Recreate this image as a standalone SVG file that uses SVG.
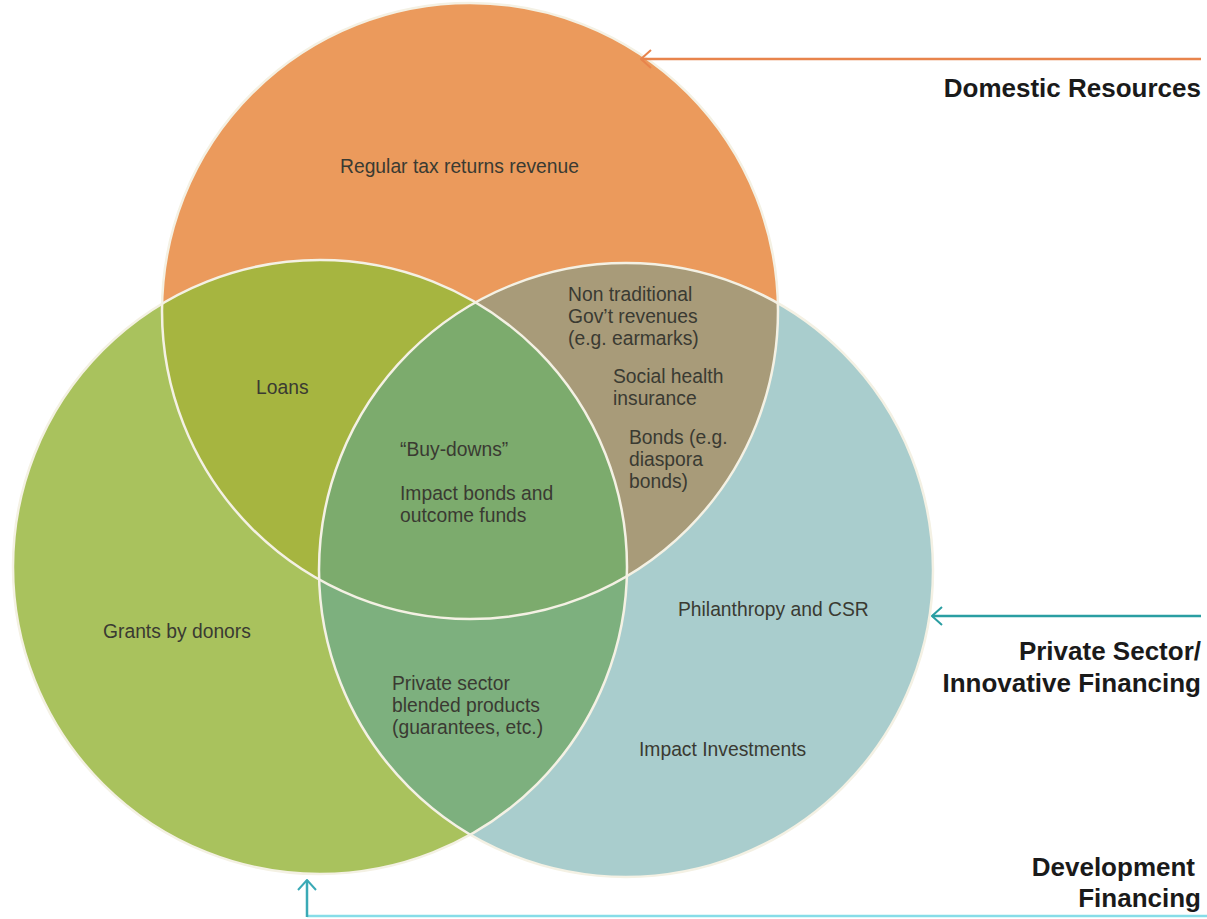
<svg xmlns="http://www.w3.org/2000/svg" width="1207" height="919" viewBox="0 0 1207 919">
<style>
.lbl{font-family:"Liberation Sans",Arial,sans-serif;font-size:19.3px;fill:#3a3a32}
.ttl{font-family:"Liberation Sans",Arial,sans-serif;font-size:26px;font-weight:bold;fill:#1a1a1a;text-anchor:end}
.ring{fill:none;stroke:#f4f1e4;stroke-width:2.5}
</style>
<defs>
<circle id="cO" cx="470" cy="311" r="308"/>
<circle id="cG" cx="320" cy="567" r="307"/>
<circle id="cT" cx="626" cy="570" r="307"/>
<clipPath id="clipO"><use href="#cO"/></clipPath>
<clipPath id="clipG"><use href="#cG"/></clipPath>
<clipPath id="clipT"><use href="#cT"/></clipPath>
<marker id="arrO" viewBox="0 0 12 20" refX="11" refY="10" markerWidth="12" markerHeight="20" markerUnits="userSpaceOnUse" orient="auto"><path d="M1,1 L11,10 L1,19" fill="none" stroke="#e8844c" stroke-width="2"/></marker>
<marker id="arrT" viewBox="0 0 12 20" refX="11" refY="10" markerWidth="12" markerHeight="20" markerUnits="userSpaceOnUse" orient="auto"><path d="M1,1 L11,10 L1,19" fill="none" stroke="#2a9ea2" stroke-width="2"/></marker>
<marker id="arrB" viewBox="0 0 12 20" refX="11" refY="10" markerWidth="12" markerHeight="20" markerUnits="userSpaceOnUse" orient="auto"><path d="M1,1 L11,10 L1,19" fill="none" stroke="#3aaab6" stroke-width="2"/></marker>
</defs>
<g id="circle-orange"><use href="#cO" fill="#eb9a5c"/></g>
<g id="circle-green"><use href="#cG" fill="#a9c25d"/></g>
<g id="circle-teal"><use href="#cT" fill="#a9cdcd"/></g>
<g id="overlap-orange-green" clip-path="url(#clipO)"><use href="#cG" fill="#a6b540"/></g>
<g id="overlap-orange-teal" clip-path="url(#clipO)"><use href="#cT" fill="#a89b79"/></g>
<g id="overlap-green-teal" clip-path="url(#clipG)"><use href="#cT" fill="#7db07e"/></g>
<g id="overlap-all" clip-path="url(#clipO)"><g clip-path="url(#clipG)"><use href="#cT" fill="#7cab6d"/></g></g>
<g id="outlines"><use href="#cO" class="ring"/><use href="#cG" class="ring"/><use href="#cT" class="ring"/></g>
<g id="labels">
<text class="lbl" x="340" y="173">Regular tax returns revenue</text>
<text class="lbl" x="256" y="394">Loans</text>
<text class="lbl" x="568" y="301">Non traditional</text>
<text class="lbl" x="568" y="323">Gov’t revenues</text>
<text class="lbl" x="568" y="345">(e.g. earmarks)</text>
<text class="lbl" x="613" y="383">Social health</text>
<text class="lbl" x="613" y="405">insurance</text>
<text class="lbl" x="629" y="444">Bonds (e.g.</text>
<text class="lbl" x="629" y="466">diaspora</text>
<text class="lbl" x="629" y="488">bonds)</text>
<text class="lbl" x="400" y="456">“Buy-downs”</text>
<text class="lbl" x="400" y="500">Impact bonds and</text>
<text class="lbl" x="400" y="522">outcome funds</text>
<text class="lbl" x="103" y="638">Grants by donors</text>
<text class="lbl" x="678" y="616">Philanthropy and CSR</text>
<text class="lbl" x="392" y="690">Private sector</text>
<text class="lbl" x="392" y="712">blended products</text>
<text class="lbl" x="392" y="734">(guarantees, etc.)</text>
<text class="lbl" x="639" y="756">Impact Investments</text>
</g>
<g id="connectors">
<line x1="1201" y1="59" x2="641" y2="59" stroke="#e8844c" stroke-width="2.5" marker-end="url(#arrO)"/>
<line x1="1201" y1="616" x2="932" y2="616" stroke="#2a9ea2" stroke-width="2.5" marker-end="url(#arrT)"/>
<line x1="1207" y1="916" x2="307" y2="916" stroke="#86dde8" stroke-width="2.5"/>
<line x1="307" y1="917" x2="307" y2="880" stroke="#3aaab6" stroke-width="2.5" marker-end="url(#arrB)"/>
</g>
<g id="legend">
<text class="ttl" x="1201" y="97">Domestic Resources</text>
<text class="ttl" x="1201" y="660">Private Sector/</text>
<text class="ttl" x="1201" y="692">Innovative Financing</text>
<text class="ttl" x="1195" y="876">Development</text>
<text class="ttl" x="1201" y="907">Financing</text>
</g>
</svg>
